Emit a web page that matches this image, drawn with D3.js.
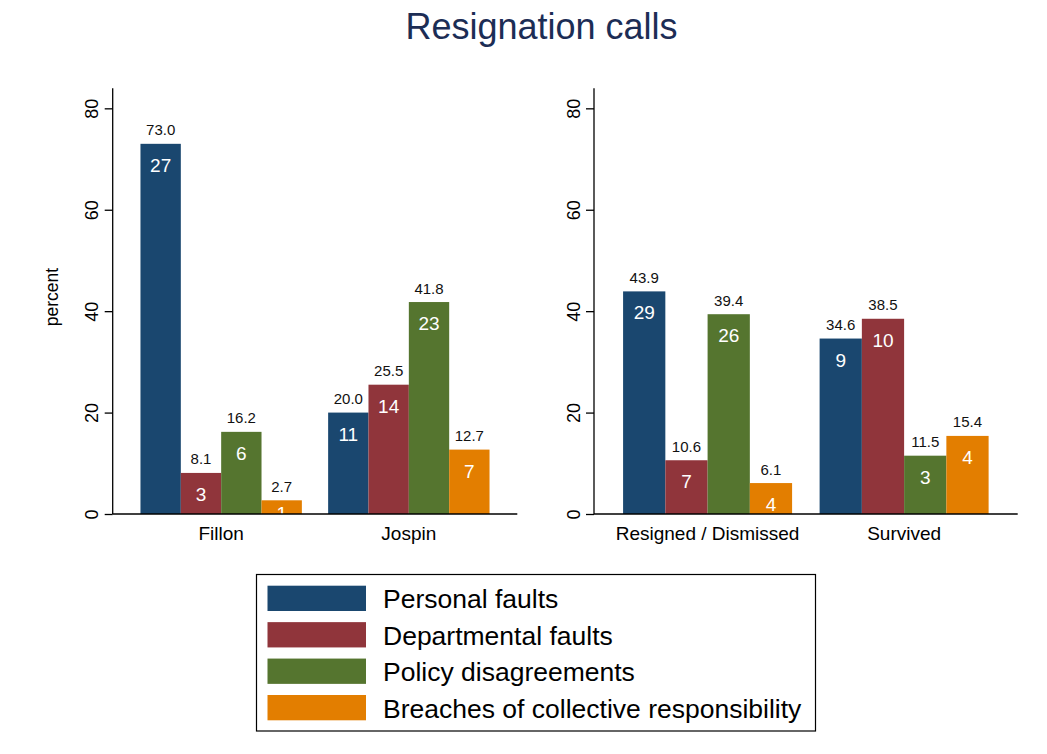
<!DOCTYPE html>
<html>
<head>
<meta charset="utf-8">
<script src="https://cdn.jsdelivr.net/npm/d3@7"></script>
<style>
  html, body { margin: 0; padding: 0; background: #fff; }
  svg { display: block; font-family: "Liberation Sans", Arial, Helvetica, sans-serif; }
</style>
</head>
<body>
<svg id="chart" width="1047" height="754"></svg>
<script>
// ---- Data ----
const series = ["Personal faults", "Departmental faults", "Policy disagreements", "Breaches of collective responsibility"];
const colors = ["#1a476f", "#90353b", "#55752f", "#e37e00"];

const leftCategories = ["Fillon", "Jospin"];
const leftPercent = [[73.0, 8.1, 16.2, 2.7], [20.0, 25.5, 41.8, 12.7]];
const leftCounts  = [[27, 3, 6, 1], [11, 14, 23, 7]];

const rightCategories = ["Resigned / Dismissed", "Survived"];
const rightPercent = [[43.9, 10.6, 39.4, 6.1], [34.6, 38.5, 11.5, 15.4]];
const rightCounts  = [[29, 7, 26, 4], [9, 10, 3, 4]];

const yTicks = [0, 20, 40, 60, 80];
const yMax = 83.95;

const svg = d3.select("#chart");

// Title
svg.append("text")
  .attr("x", 541.5).attr("y", 38.5)
  .attr("text-anchor", "middle")
  .attr("font-size", 36)
  .attr("fill", "#1c2d55")
  .text("Resignation calls");

const yTop = 88.3, yBottom = 514;
const y = d3.scaleLinear().domain([0, yMax]).range([yBottom, yTop]);

function panel(id, x0, x1, cats, pct, cnt, showTitle) {
  const g = svg.append("g");
  const x = d3.scaleBand().domain(cats).range([x0, x1]).paddingInner(0.14).paddingOuter(0.148);
  const xs = d3.scaleBand().domain(d3.range(series.length)).range([0, x.bandwidth()]).padding(0);

  const clipId = "clip-" + id;
  svg.append("clipPath").attr("id", clipId)
    .append("rect").attr("x", x0).attr("y", yTop - 30).attr("width", x1 - x0).attr("height", yBottom - yTop + 30);

  const plot = g.append("g").attr("clip-path", `url(#${clipId})`);

  cats.forEach((c, ci) => {
    const gg = plot.append("g").attr("transform", `translate(${x(c)},0)`);
    pct[ci].forEach((v, si) => {
      gg.append("rect")
        .attr("x", xs(si)).attr("width", xs.bandwidth())
        .attr("y", y(v)).attr("height", y(0) - y(v))
        .attr("fill", colors[si]);
      gg.append("text")
        .attr("x", xs(si) + xs.bandwidth() / 2)
        .attr("y", y(v) - 8.5)
        .attr("text-anchor", "middle")
        .attr("font-size", 15)
        .attr("fill", "#111")
        .text(v.toFixed(1));
      gg.append("text")
        .attr("x", xs(si) + xs.bandwidth() / 2)
        .attr("y", Math.min(y(v) + 28, y(0) + 5.5))
        .attr("text-anchor", "middle")
        .attr("font-size", 19)
        .attr("fill", "#fff")
        .text(cnt[ci][si]);
    });
  });

  // y axis
  const yAxis = d3.axisLeft(y).tickValues(yTicks).tickSize(8).tickPadding(6).tickFormat(d3.format("d"));
  const ya = g.append("g").attr("transform", `translate(${x0},0)`).call(yAxis);
  ya.select(".domain").attr("d", `M0,${yTop}V${yBottom}`).attr("stroke", "#000").attr("stroke-width", 1.3);
  ya.selectAll(".tick line").attr("stroke", "#000").attr("stroke-width", 1.3);
  ya.selectAll(".tick text")
    .attr("font-size", 18).attr("fill", "#000")
    .attr("font-family", "Liberation Sans, Arial, sans-serif")
    .attr("text-anchor", "middle")
    .attr("x", null).attr("dy", null)
    .attr("transform", "translate(-14.5,0) rotate(-90)")
    .attr("y", 0);

  // x axis line
  g.append("line")
    .attr("x1", x0).attr("x2", x1).attr("y1", yBottom).attr("y2", yBottom)
    .attr("stroke", "#000").attr("stroke-width", 1.3);

  cats.forEach(c => {
    g.append("text")
      .attr("x", x(c) + x.bandwidth() / 2)
      .attr("y", 539.5)
      .attr("text-anchor", "middle")
      .attr("font-size", 19)
      .attr("fill", "#000")
      .text(c);
  });

  if (showTitle) {
    g.append("text")
      .attr("transform", `translate(57.5,${(yTop + yBottom) / 2 - 4}) rotate(-90)`)
      .attr("text-anchor", "middle")
      .attr("font-size", 17.5)
      .attr("fill", "#000")
      .text("percent");
  }
}

panel("left", 112.7, 517.3, leftCategories, leftPercent, leftCounts, true);
panel("right", 594, 1017.7, rightCategories, rightPercent, rightCounts, false);

// Legend
const lg = svg.append("g");
lg.append("rect").attr("x", 256.5).attr("y", 574.5).attr("width", 559).attr("height", 156.5)
  .attr("fill", "#fff").attr("stroke", "#000").attr("stroke-width", 1.2);
const rowY = d3.scalePoint().domain(d3.range(series.length)).range([585.7, 695]);
series.forEach((s, i) => {
  lg.append("rect").attr("x", 267.5).attr("y", rowY(i)).attr("width", 98.5).attr("height", 25.3)
    .attr("fill", colors[i]);
  lg.append("text").attr("x", 383).attr("y", rowY(i) + 22.5)
    .attr("font-size", 26.5).attr("fill", "#000").text(s);
});
</script>
</body>
</html>
